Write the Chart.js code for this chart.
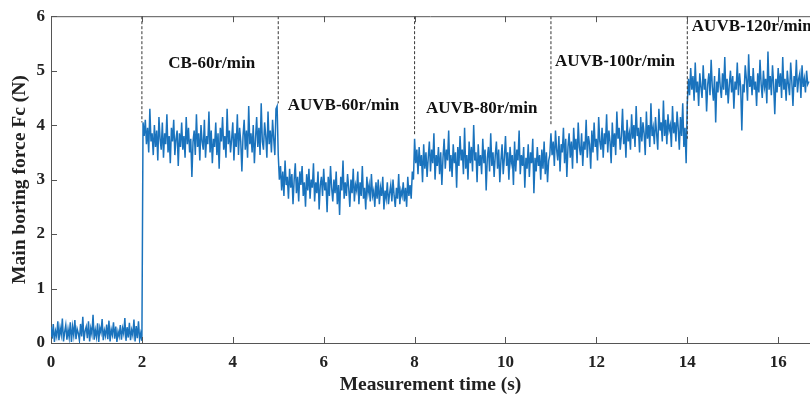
<!DOCTYPE html>
<html>
<head>
<meta charset="utf-8">
<script src="https://cdn.jsdelivr.net/npm/chart.js@4/dist/chart.umd.min.js"></script>
<style>
  html, body { margin: 0; padding: 0; background: #fff; }
  #wrap { width: 810px; height: 398px; }
</style>
</head>
<body>
<div id="wrap"><canvas id="chart"></canvas></div>
<script>
// Sampling step of the force record (s)
const step = 0.025;

// Force readings (N)
const idle = [0.30, 0.08, 0.35, 0.02, 0.22, 0.12, 0.40, 0.05, 0.28, 0.15,
  0.45, 0.03, 0.20, 0.33, 0.06, 0.25, 0.10, 0.38, 0.02, 0.30,
  0.14, 0.42, 0.07, 0.26, 0.18, 0.05, 0.35, 0.12, 0.48, 0.04,
  0.22, 0.30, 0.09, 0.40, 0.03, 0.27, 0.16, 0.52, 0.06, 0.24,
  0.11, 0.36, 0.02, 0.28, 0.19, 0.44, 0.05, 0.23, 0.13, 0.34,
  0.07, 0.41, 0.03, 0.25, 0.15, 0.38, 0.08, 0.30, 0.02, 0.21,
  0.12, 0.33, 0.06, 0.27, 0.17, 0.46, 0.04, 0.29, 0.10, 0.37,
  0.05, 0.24, 0.14, 0.43, 0.03, 0.31, 0.09, 0.40, 0.06, 0.18,
  0.04];
const cb60 = [4.05, 3.80, 4.10, 3.65, 3.95, 3.50, 4.30, 3.70, 3.85, 3.45,
  4.00, 3.60, 3.90, 3.35, 4.15, 3.75, 3.55, 4.05, 3.40, 3.85,
  3.65, 4.20, 3.50, 3.80, 3.30, 3.95, 3.70, 4.10, 3.45, 3.75,
  3.90, 3.25, 3.85, 3.60, 4.05, 3.55, 3.80, 3.40, 4.15, 3.65,
  3.95, 3.50, 3.75, 3.05, 3.70, 3.90, 3.45, 4.20, 3.60, 3.85,
  3.35, 4.00, 3.70, 3.55, 4.10, 3.40, 3.80, 3.65, 4.25, 3.50,
  3.90, 3.30, 3.75, 3.60, 4.05, 3.45, 3.85, 3.20, 3.95, 3.70,
  4.15, 3.55, 3.80, 3.40, 4.30, 3.65, 3.90, 3.50, 3.75, 4.05,
  3.35, 3.85, 3.60, 4.20, 3.45, 3.95, 3.70, 3.15, 3.80, 4.10,
  3.55, 3.90, 3.40, 4.35, 3.65, 3.85, 3.50, 4.00, 3.30, 3.75,
  4.15, 3.60, 3.95, 3.45, 4.40, 3.70, 3.55, 4.05, 3.80, 3.40,
  4.25, 3.65, 3.90, 3.50, 4.10, 3.75, 3.45, 4.30, 4.35];
const auvb60 = [3.45, 3.00, 3.25, 2.80, 3.15, 2.70, 3.35, 2.90, 3.05, 2.65,
  3.20, 2.85, 3.10, 2.55, 3.00, 3.30, 2.75, 3.05, 2.60, 3.15,
  2.90, 3.25, 2.70, 2.95, 2.50, 3.10, 2.80, 3.20, 2.65, 3.00,
  2.85, 3.30, 2.60, 2.95, 2.75, 3.15, 2.45, 2.90, 3.05, 2.70,
  3.20, 2.80, 2.95, 2.40, 3.05, 2.70, 3.25, 2.85, 2.60, 3.00,
  2.75, 3.15, 2.55, 2.90, 2.35, 3.05, 2.80, 3.35, 2.65, 2.95,
  2.70, 3.10, 2.85, 2.50, 3.00, 2.75, 3.20, 2.60, 2.90, 2.80,
  3.15, 2.55, 2.95, 2.70, 3.25, 2.65, 2.85, 2.45, 3.05, 2.75,
  2.90, 2.60, 3.10, 2.70, 2.80, 2.50, 2.95, 2.65, 3.00, 2.55,
  2.85, 2.70, 3.05, 2.45, 2.80, 2.65, 2.95, 2.55, 2.75, 2.90,
  2.60, 3.00, 2.70, 2.50, 2.85, 2.65, 3.10, 2.55, 2.80, 2.70,
  2.95, 2.60, 2.85, 2.50, 3.05, 2.70, 2.90, 2.65, 3.15, 3.00];
const auvb80 = [3.75, 3.30, 3.55, 3.10, 3.60, 3.25, 3.45, 2.95, 3.65, 3.20,
  3.50, 3.05, 3.40, 3.70, 3.15, 3.55, 3.30, 3.85, 3.00, 3.45,
  3.25, 3.60, 3.10, 3.50, 2.90, 3.40, 3.75, 3.20, 3.55, 3.35,
  3.90, 3.15, 3.45, 3.05, 3.65, 3.30, 3.50, 2.85, 3.60, 3.25,
  3.80, 3.35, 3.55, 3.10, 3.95, 3.20, 3.45, 3.00, 3.70, 3.30,
  3.60, 3.15, 4.00, 3.35, 3.50, 2.95, 3.65, 3.25, 3.45, 3.10,
  3.75, 3.30, 3.55, 2.80, 3.40, 3.60, 3.15, 3.85, 3.25, 3.50,
  3.05, 3.45, 3.70, 3.20, 3.55, 2.95, 3.35, 3.65, 3.10, 3.40,
  3.80, 3.25, 3.50, 3.00, 3.60, 3.30, 3.45, 2.90, 3.70, 3.15,
  3.55, 3.35, 3.90, 3.10, 3.45, 3.25, 3.60, 2.85, 3.40, 3.20,
  3.65, 3.05, 3.50, 3.30, 3.75, 2.75, 3.40, 3.15, 3.60, 3.25,
  3.45, 3.00, 3.55, 3.20, 3.70, 3.10, 3.50, 2.95, 3.35, 3.45];
const auvb100 = [3.85, 3.45, 3.70, 3.25, 3.90, 3.55, 3.35, 3.80, 3.15, 3.65,
  3.50, 3.95, 3.30, 3.75, 3.05, 3.60, 3.85, 3.40, 3.70, 3.20,
  3.95, 3.55, 3.75, 3.30, 4.05, 3.60, 3.45, 3.85, 3.25, 3.70,
  3.55, 4.10, 3.40, 3.80, 3.65, 3.20, 3.90, 3.50, 4.05, 3.60,
  3.75, 3.35, 4.15, 3.70, 3.55, 3.95, 3.40, 3.85, 3.65, 4.20,
  3.50, 3.90, 3.70, 3.30, 4.05, 3.60, 3.85, 3.45, 4.25, 3.75,
  3.95, 3.55, 3.80, 4.30, 3.65, 3.90, 3.40, 4.10, 3.70, 3.85,
  3.55, 4.20, 3.75, 4.00, 3.60, 4.35, 3.80, 3.95, 3.50, 4.15,
  3.70, 4.05, 3.85, 3.45, 4.25, 3.75, 4.00, 3.60, 4.40, 3.80,
  3.95, 3.65, 4.15, 3.85, 3.55, 4.30, 3.90, 4.05, 3.70, 4.45,
  3.80, 4.10, 3.65, 4.20, 3.90, 4.00, 3.60, 4.35, 3.85, 4.05,
  3.70, 4.25, 3.95, 3.55, 4.15, 3.80, 4.40, 3.60, 3.95, 3.30];
const auvb120 = [4.40, 4.85, 4.55, 5.05, 4.65, 4.90, 4.45, 5.15, 4.60, 4.80,
  4.35, 4.95, 4.70, 4.50, 5.10, 4.65, 4.85, 4.25, 4.75, 4.95,
  4.55, 5.20, 4.70, 4.45, 4.90, 4.05, 4.80, 4.60, 5.05, 4.70,
  4.50, 4.95, 4.65, 5.25, 4.55, 4.85, 4.40, 4.75, 5.00, 4.60,
  4.90, 4.30, 4.80, 4.65, 5.15, 4.55, 4.95, 4.70, 3.90, 4.75,
  4.60, 5.10, 4.85, 4.45, 5.30, 4.70, 4.90, 4.55, 5.05, 4.65,
  4.80, 4.35, 4.95, 4.60, 5.20, 4.75, 4.50, 5.00, 4.70, 4.85,
  4.40, 5.35, 4.65, 4.90, 4.55, 5.10, 4.75, 4.20, 4.85, 4.60,
  5.05, 4.70, 4.95, 4.50, 5.25, 4.65, 4.85, 4.45, 5.00, 4.75,
  4.55, 5.15, 4.80, 4.35, 4.90, 4.70, 5.20, 4.60, 4.85, 4.95,
  4.50, 5.10, 4.70, 4.85, 4.60, 5.00, 4.75, 4.80];

// Phase boundaries (dashed lines): time and the force where each line stops
const boundaryTime = [2, 5, 8, 11, 14];
const boundaryLow = [4.05, 4.4, 3.8, 4.0, 3.75];

// Phase labels, anchored at their left edge in data units
const phaseText = ['CB-60r/min', 'AUVB-60r/min', 'AUVB-80r/min', 'AUVB-100r/min', 'AUVB-120r/min'];
const phaseTime = [2.58, 5.21, 8.25, 11.09, 14.1];
const phaseForce = [5.13, 4.36, 4.3, 5.16, 5.8];

// Axis ticks
const xTicks = [0, 2, 4, 6, 8, 10, 12, 14, 16];
const yTicks = [0, 1, 2, 3, 4, 5, 6];

const force = [].concat(idle, cb60, auvb60, auvb80, auvb100, auvb120);
const signal = force.map((f, i) => ({ x: +(i * step).toFixed(3), y: f }));

const serif = '"Liberation Serif", "Times New Roman", serif';

const datasets = boundaryTime.map((t, i) => ({
    data: [{ x: t, y: 6 }, { x: t, y: boundaryLow[i] }],
    borderColor: '#333',
    borderWidth: 1,
    borderDash: [3, 2],
    pointRadius: 0
}));
datasets.push({
    data: signal,
    borderColor: '#1a73bd',
    borderWidth: 1.5,
    pointRadius: 0,
    tension: 0
});

// Box top edge, inward ticks and the phase labels
const framePlugin = {
    id: 'frame',
    afterDraw(chart) {
        const { ctx, chartArea: a, scales: { x, y } } = chart;
        ctx.save();
        ctx.strokeStyle = '#555';
        ctx.lineWidth = 1;
        ctx.beginPath();
        ctx.moveTo(a.left, a.top + 0.5);
        ctx.lineTo(a.right, a.top + 0.5);
        xTicks.forEach(v => {
            const px = Math.round(x.getPixelForValue(v)) + 0.5;
            ctx.moveTo(px, a.bottom);
            ctx.lineTo(px, a.bottom - 6);
            ctx.moveTo(px, a.top);
            ctx.lineTo(px, a.top + 6);
        });
        yTicks.forEach(v => {
            const py = Math.round(y.getPixelForValue(v)) + 0.5;
            ctx.moveTo(a.left, py);
            ctx.lineTo(a.left + 6, py);
        });
        ctx.stroke();

        ctx.fillStyle = '#111';
        ctx.font = 'bold 17px ' + serif;
        ctx.textAlign = 'left';
        ctx.textBaseline = 'middle';
        phaseText.forEach((t, i) => {
            ctx.fillText(t, x.getPixelForValue(phaseTime[i]), y.getPixelForValue(phaseForce[i]));
        });
        ctx.restore();
    }
};

new Chart(document.getElementById('chart'), {
    type: 'line',
    data: { datasets: datasets },
    options: {
        responsive: true,
        maintainAspectRatio: false,
        animation: false,
        layout: { padding: { top: 14, right: 0, left: 0, bottom: 0 } },
        plugins: { legend: { display: false }, tooltip: { enabled: false } },
        scales: {
            x: {
                type: 'linear',
                min: 0,
                max: 16.7,
                afterFit: s => { s.height = 55; },
                ticks: {
                    stepSize: 2,
                    includeBounds: false,
                    maxRotation: 0,
                    padding: 9,
                    color: '#222',
                    font: { family: serif, size: 17, weight: 'bold' }
                },
                grid: { drawOnChartArea: false, drawTicks: false },
                border: { display: true, color: '#555' },
                title: {
                    display: true,
                    text: 'Measurement time (s)',
                    color: '#222',
                    font: { family: serif, size: 19.5, weight: 'bold' },
                    padding: { top: 0, bottom: 1 }
                }
            },
            y: {
                min: 0,
                max: 6,
                afterFit: s => { s.width = 51; },
                ticks: {
                    stepSize: 1,
                    padding: 6,
                    color: '#222',
                    font: { family: serif, size: 17, weight: 'bold' }
                },
                grid: { drawOnChartArea: false, drawTicks: false },
                border: { display: true, color: '#555' },
                title: {
                    display: true,
                    text: 'Main boring force Fc (N)',
                    color: '#222',
                    font: { family: serif, size: 19.5, weight: 'bold' },
                    padding: { top: 8, bottom: 0 }
                }
            }
        }
    },
    plugins: [framePlugin]
});
</script>
</body>
</html>
